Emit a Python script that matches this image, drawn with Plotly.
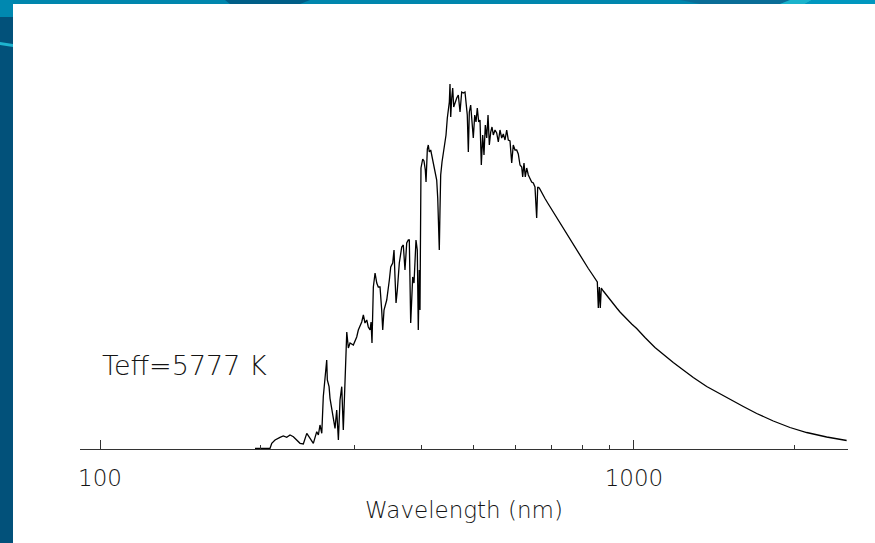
import plotly.graph_objects as go

# Solar spectrum (Teff = 5777 K): wavelength in nm, flux in W m^-2 nm^-1
wavelength_nm = [
    195.1, 208.1, 209.7, 212.7, 217.3, 220.4, 223.7, 226.9, 230.2, 233.6,
    236.9, 240.3, 243.9, 247.4, 250.9, 254.6, 256.4, 258.2, 260.2, 261.9,
    263.9, 265.8, 266.5, 268.5, 269.6, 271.6, 273.5, 275.5, 277.5, 279.5,
    281.5, 283.6, 285.5, 287.6, 289.8, 291.8, 293.9, 298.1, 302.5, 304.6,
    309.1, 311.3, 313.5, 315.9, 318.0, 320.4, 321.8, 323.1, 325.0, 327.4,
    329.8, 332.0, 334.5, 336.9, 338.4, 340.3, 344.3, 348.2, 350.3, 353.3,
    355.3, 356.8, 358.4, 360.4, 363.5, 367.3, 369.8, 372.5, 375.3, 377.9,
    379.5, 381.8, 385.1, 387.3, 390.6, 392.8, 394.5, 396.2, 397.4, 399.1,
    402.1, 404.3, 406.6, 407.9, 410.2, 411.9, 413.7, 416.2, 418.0, 420.9,
    424.0, 427.1, 429.0, 430.8, 431.9, 433.2, 434.5, 437.0, 439.5, 442.1,
    444.6, 447.1, 449.0, 451.0, 452.3, 453.7, 455.7, 457.6, 459.6, 462.2,
    465.6, 468.8, 472.3, 475.7, 479.0, 482.5, 484.6, 487.3, 489.5, 491.6,
    494.5, 497.3, 500.1, 503.2, 506.0, 508.8, 511.9, 514.8, 517.7, 520.8,
    523.7, 526.7, 529.9, 532.9, 535.9, 539.1, 542.1, 545.2, 549.2, 553.2,
    557.1, 561.1, 565.3, 569.2, 573.4, 577.6, 581.6, 585.9, 590.2, 594.2,
    598.6, 603.0, 607.2, 611.7, 616.2, 618.8, 622.3, 625.8, 629.6, 634.0,
    638.6, 643.3, 647.8, 652.5, 657.3, 660.2, 664.7, 671.6, 681.3, 691.1,
    701.3, 711.3, 721.5, 732.2, 742.7, 753.3, 764.4, 775.4, 786.5, 798.1,
    809.6, 821.2, 833.3, 845.3, 853.7, 857.4, 861.1, 864.8, 868.5, 876.1,
    889.0, 901.7, 914.7, 928.2, 941.5, 955.0, 969.1, 990.1, 1011.7, 1026.2,
    1048.6, 1094.7, 1134.6, 1184.6, 1236.8, 1291.4, 1368.2, 1449.1, 1512.9, 1602.2,
    1697.5, 1823.3, 1959.6, 2105.7, 2295.4, 2501.8,
]

flux = [
    0.000, 0.000, 0.031, 0.051, 0.067, 0.075, 0.067, 0.081, 0.071, 0.051,
    0.031, 0.027, 0.091, 0.061, 0.031, 0.101, 0.081, 0.141, 0.091, 0.311,
    0.431, 0.531, 0.411, 0.371, 0.301, 0.231, 0.171, 0.121, 0.231, 0.051,
    0.291, 0.371, 0.111, 0.411, 0.699, 0.603, 0.633, 0.621, 0.669, 0.711,
    0.759, 0.801, 0.753, 0.771, 0.729, 0.711, 0.759, 0.633, 0.969, 1.053,
    0.993, 0.969, 0.969, 0.831, 0.711, 0.831, 0.891, 1.011, 1.089, 1.113,
    1.191, 1.029, 0.873, 0.951, 1.113, 1.209, 1.221, 1.071, 1.233, 1.251,
    1.251, 0.753, 1.029, 0.993, 1.251, 1.191, 0.711, 1.071, 0.831, 1.683,
    1.737, 1.725, 1.671, 1.599, 1.797, 1.821, 1.779, 1.791, 1.761, 1.725,
    1.683, 1.611, 1.503, 1.323, 1.191, 1.431, 1.641, 1.719, 1.779, 1.839,
    1.881, 1.983, 2.049, 2.079, 2.187, 1.989, 2.103, 2.163, 2.049, 2.079,
    2.103, 2.121, 2.019, 2.139, 2.133, 2.139, 2.079, 2.001, 1.779, 2.019,
    2.061, 1.983, 1.863, 2.001, 1.959, 2.043, 1.959, 1.971, 1.701, 1.881,
    1.761, 1.941, 1.863, 2.001, 1.821, 1.899, 1.929, 1.881, 1.911, 1.893,
    1.839, 1.911, 1.863, 1.887, 1.851, 1.911, 1.851, 1.845, 1.713, 1.821,
    1.791, 1.791, 1.767, 1.701, 1.689, 1.629, 1.713, 1.629, 1.683, 1.641,
    1.623, 1.599, 1.593, 1.569, 1.383, 1.569, 1.563, 1.533, 1.500, 1.467,
    1.434, 1.401, 1.368, 1.335, 1.302, 1.269, 1.236, 1.203, 1.170, 1.140,
    1.110, 1.080, 1.050, 1.020, 0.999, 0.843, 0.969, 0.843, 0.963, 0.945,
    0.918, 0.891, 0.867, 0.843, 0.819, 0.798, 0.777, 0.747, 0.720, 0.701,
    0.666, 0.606, 0.564, 0.516, 0.471, 0.426, 0.372, 0.327, 0.294, 0.252,
    0.210, 0.165, 0.126, 0.096, 0.069, 0.048,
]

major_ticks = [100, 1000]
major_labels = ["100", "1000"]
minor_ticks = [200, 300, 400, 500, 600, 700, 800, 900, 2000]

W, H = 875, 543
ML, MR, MT, MB = 80, 27, 60, 94
PW, PH = W - ML - MR, H - MT - MB

FONT = "DejaVu Sans"
INK = "#141414"


def fx(p):
    """Horizontal page pixel -> paper fraction."""
    return (p - ML) / PW


def fy(p):
    """Vertical page pixel (from top) -> paper fraction."""
    return (H - MB - p) / PH


def rect(x0, y0, x1, y1, color):
    return dict(type="rect", xref="paper", yref="paper",
                x0=fx(x0), x1=fx(x1), y0=fy(y1), y1=fy(y0),
                fillcolor=color, line=dict(width=0), layer="above")


def poly(points, color):
    path = "M " + " L ".join(f"{fx(a):.5f},{fy(b):.5f}" for a, b in points) + " Z"
    return dict(type="path", xref="paper", yref="paper", path=path,
                fillcolor=color, line=dict(width=0), layer="above")


# slide frame: blue strip on the left and along the top
frame = [
    rect(0, 0, 13, H, "#02517a"),
    rect(0, 0, W, 4, "#0086ad"),
    poly([(225, 0), (310, 0), (300, 4), (230, 4)], "#005e87"),
    poly([(680, 0), (790, 0), (780, 4), (700, 4)], "#0a6d97"),
    poly([(790, 0), (812, 0), (805, 4), (780, 4)], "#1ab3cc"),
    poly([(812, 0), (W, 0), (W, 4), (805, 4)], "#0097bf"),
    rect(0, 0, 13, 17, "#0088b0"),
    poly([(0, 42), (13, 44), (13, 47), (0, 45)], "#1eb4cf"),
]

fig = go.Figure()
fig.add_trace(go.Scatter(
    x=wavelength_nm, y=flux, mode="lines",
    line=dict(color="#000000", width=1.3),
    hoverinfo="skip", showlegend=False,
))

fig.update_layout(
    width=W, height=H,
    margin=dict(l=ML, r=MR, t=MT, b=MB, pad=0),
    paper_bgcolor="#ffffff", plot_bgcolor="#ffffff",
    font=dict(family=FONT, color=INK),
    xaxis=dict(
        type="log", range=[1.9625, 3.4008], autorange=False,
        showgrid=False, zeroline=False,
        showline=True, linecolor="#333333", linewidth=1.3,
        ticks="inside", ticklen=9, tickwidth=1.2, tickcolor="#333333",
        tickmode="array", tickvals=major_ticks, ticktext=major_labels,
        tickfont=dict(family=FONT, size=23, color=INK, weight=300),
        ticklabelstandoff=8,
        minor=dict(tickmode="array", tickvals=minor_ticks, ticks="inside",
                   ticklen=4, tickwidth=1.2, tickcolor="#333333", showgrid=False),
        title=dict(text="Wavelength (nm)", standoff=12,
                   font=dict(family=FONT, size=23, color=INK, weight=300)),
        fixedrange=True,
    ),
    yaxis=dict(visible=False, range=[-0.003, 2.331], autorange=False,
               fixedrange=True),
    shapes=frame,
    annotations=[dict(
        text="Teff=5777 K", x=2, y=0.5, xref="x", yref="y",
        xanchor="left", yanchor="middle", showarrow=False,
        font=dict(family=FONT, size=27, color=INK, weight=300),
    )],
)

fig.write_html("out.html", config=dict(displayModeBar=False))
